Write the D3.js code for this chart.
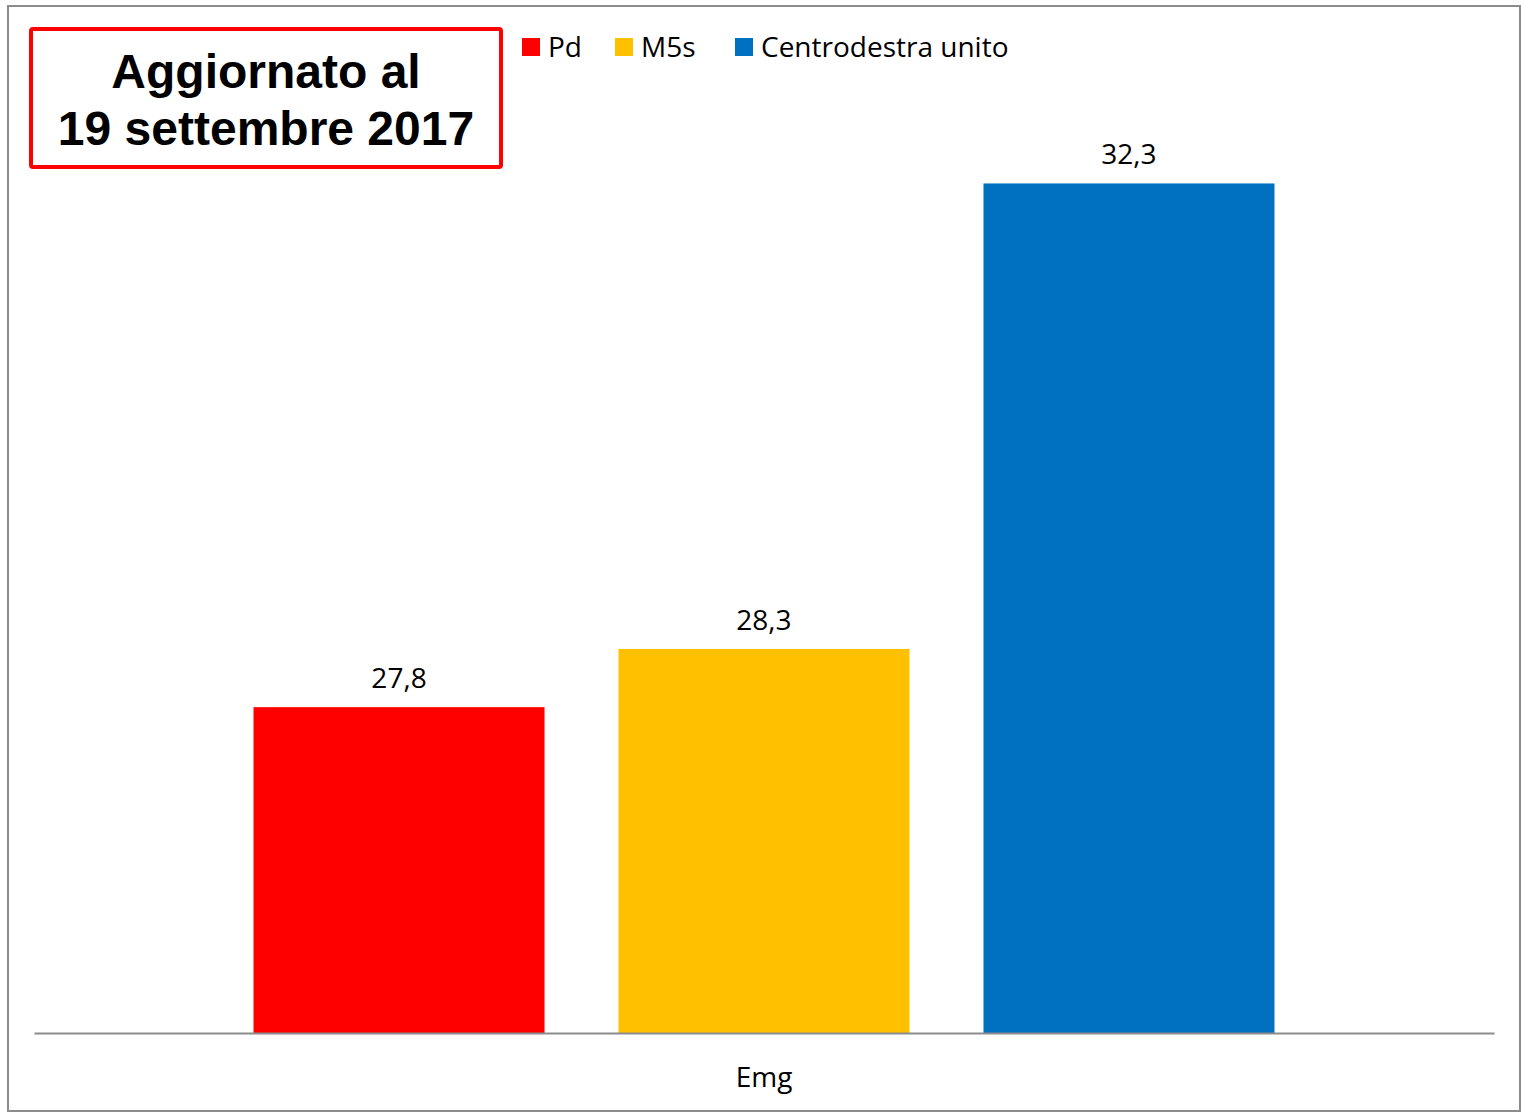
<!DOCTYPE html>
<html>
<head>
<meta charset="utf-8">
<script src="https://cdn.jsdelivr.net/npm/d3@7/dist/d3.min.js"></script>
<style>
  html, body { margin: 0; padding: 0; background: #fff; }
  svg { display: block; }
</style>
</head>
<body>
<svg id="chart" width="1521" height="1113"></svg>
<script>
// Poll data
const categories = ["Emg"];
const series = ["Pd", "M5s", "Centrodestra unito"];
const values = [27.8, 28.3, 32.3];
const colors = ["#ff0000", "#ffc000", "#0070c0"];
const titleLines = ["Aggiornato al", "19 settembre 2017"];

const svg = d3.select("#chart");
const labelFont = "'Open Sans', sans-serif";

// outer frame
svg.append("rect")
    .attr("x", 8).attr("y", 6).attr("width", 1512).attr("height", 1105)
    .attr("fill", "#fff").attr("stroke", "#8c8c8c").attr("stroke-width", 2);

const plot = {left: 34, right: 1494, top: 102, bottom: 1033};

const y = d3.scaleLinear().domain([25, 33]).range([plot.bottom, plot.top]);
const x0 = d3.scaleBand().domain(categories).range([plot.left, plot.right]).paddingOuter(0.215);
const x1 = d3.scaleBand().domain(series).range([0, x0.bandwidth()]).paddingInner(0.2027);

const groups = svg.append("g").selectAll("g")
    .data(categories)
    .join("g")
    .attr("transform", d => `translate(${x0(d)},0)`);

groups.selectAll("rect")
    .data(() => series.map((s, i) => ({s, v: values[i], c: colors[i]})))
    .join("rect")
    .attr("x", d => x1(d.s))
    .attr("y", d => y(d.v))
    .attr("width", x1.bandwidth())
    .attr("height", d => y(y.domain()[0]) - y(d.v))
    .attr("fill", d => d.c);

groups.selectAll("text.val")
    .data(() => series.map((s, i) => ({s, v: values[i]})))
    .join("text")
    .attr("class", "val")
    .attr("x", d => x1(d.s) + x1.bandwidth() / 2)
    .attr("y", d => y(d.v) - 19)
    .attr("text-anchor", "middle")
    .attr("font-family", labelFont)
    .attr("font-size", 28)
    .attr("fill", "#000")
    .text(d => d3.format(".1f")(d.v).replace(".", ","));

// baseline axis
const xAxis = svg.append("g").attr("transform", `translate(0,${plot.bottom})`)
    .call(d3.axisBottom(x0).tickSize(0).tickPadding(34));
xAxis.select(".domain").attr("stroke", "#8c8c8c").attr("stroke-width", 2);
xAxis.selectAll("text").attr("font-family", labelFont).attr("font-size", 28).attr("fill", "#000");

// legend
const legendX = [522, 615, 735];
const legend = svg.append("g").selectAll("g")
    .data(series)
    .join("g")
    .attr("transform", (d, i) => `translate(${legendX[i]},38)`);
legend.append("rect").attr("width", 18).attr("height", 18).attr("fill", (d, i) => colors[i]);
legend.append("text")
    .attr("x", 26).attr("y", 19)
    .attr("font-family", labelFont).attr("font-size", 28).attr("fill", "#000")
    .text(d => d);

// title box
svg.append("rect")
    .attr("x", 31).attr("y", 29).attr("width", 470).attr("height", 138)
    .attr("fill", "#fff").attr("stroke", "#ff0000").attr("stroke-width", 4).attr("rx", 2);
svg.append("g").selectAll("text")
    .data(titleLines)
    .join("text")
    .attr("x", 266)
    .attr("y", (d, i) => 88 + i * 57)
    .attr("text-anchor", "middle")
    .attr("font-family", "'Liberation Sans', Arial, sans-serif")
    .attr("font-weight", "bold")
    .attr("font-size", 48)
    .attr("fill", "#000")
    .text(d => d);
</script>
</body>
</html>
